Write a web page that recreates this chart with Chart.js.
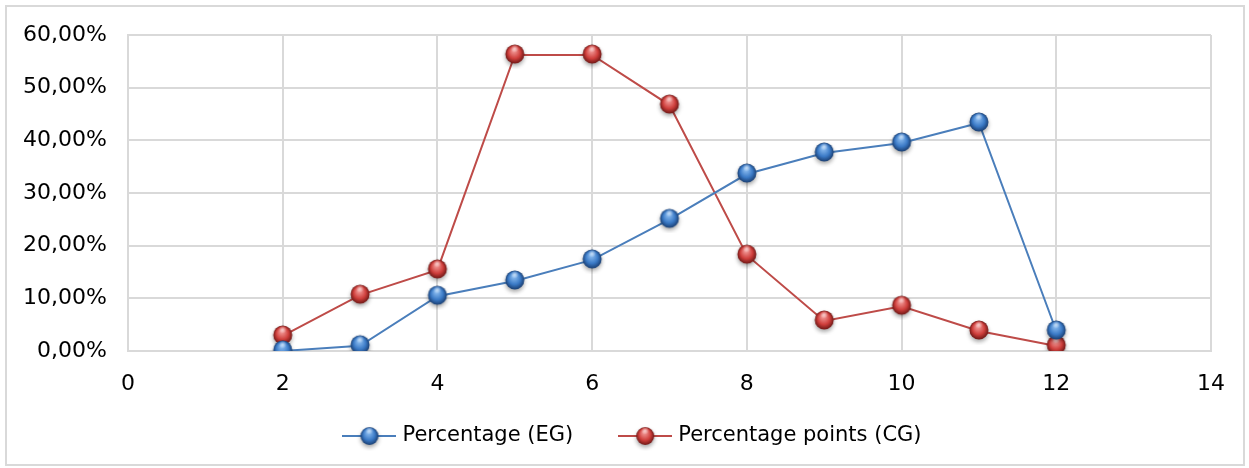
<!DOCTYPE html>
<html>
<head>
<meta charset="utf-8">
<script src="https://cdn.jsdelivr.net/npm/chart.js@4"></script>
<style>
  html, body { margin: 0; padding: 0; background: #fff; }
  #wrap { position: relative; width: 1249px; height: 468px; }
  #frame { position: absolute; left: 5px; top: 5px; width: 1236px; height: 457px;
           border: 2px solid #d9d9d9; pointer-events: none; }
</style>
</head>
<body>
<div id="wrap">
  <canvas id="myChart" width="1249" height="468"></canvas>
  <div id="frame"></div>
</div>
<script>
// x values
const xValues = [2, 3, 4, 5, 6, 7, 8, 9, 10, 11, 12];
// values in percent
const egValues = [0.0, 1.0, 10.4, 13.3, 17.3, 25.0, 33.6, 37.6, 39.5, 43.3, 3.8];
const cgValues = [2.85, 10.6, 15.4, 56.2, 56.2, 46.7, 18.2, 5.7, 8.5, 3.8, 0.95];
const seriesNames = ['Percentage (EG)', 'Percentage points (CG)'];

const FONT = 'DejaVu Sans, Verdana, sans-serif';

// shaded sphere marker, like the office chart style
function sphere(light, base, dark, withLine, lineColor) {
  const w = withLine ? 54 : 28, h = 28;
  const c = document.createElement('canvas');
  c.width = w; c.height = h;
  const g = c.getContext('2d');
  const cx = w / 2, cy = h / 2 - 1, r = withLine ? 9 : 9.5;
  if (withLine) {
    g.strokeStyle = lineColor;
    g.lineWidth = 2;
    g.beginPath(); g.moveTo(0, cy); g.lineTo(w, cy); g.stroke();
  }
  g.save();
  g.shadowColor = 'rgba(0,0,0,0.35)';
  g.shadowBlur = 4;
  g.shadowOffsetY = 2.5;
  const grad = g.createRadialGradient(cx - 1, cy - 4, 1, cx, cy, r);
  grad.addColorStop(0, light);
  grad.addColorStop(0.6, base);
  grad.addColorStop(1, dark);
  g.fillStyle = grad;
  g.beginPath(); g.arc(cx, cy, r, 0, Math.PI * 2); g.fill();
  g.restore();
  const hl = g.createRadialGradient(cx, cy - 5.5, 0, cx, cy - 5.5, 4);
  hl.addColorStop(0, 'rgba(255,255,255,0.55)');
  hl.addColorStop(1, 'rgba(255,255,255,0)');
  g.fillStyle = hl;
  g.beginPath(); g.arc(cx, cy - 5.5, 4, 0, Math.PI * 2); g.fill();
  return c;
}

const BLUE = '#4a7ebb';
const RED = '#be4b48';
const blueArgs = ['#8bbcf0', '#3b7ac6', '#1a3f73'];
const redArgs = ['#f29a98', '#cf3f3c', '#701816'];
const blueDot = sphere(...blueArgs, false);
const redDot = sphere(...redArgs, false);
const blueLeg = sphere(...blueArgs, true, BLUE);
const redLeg = sphere(...redArgs, true, RED);

function toPoints(vals) {
  return xValues.map((x, i) => ({ x: x, y: vals[i] }));
}

const data = {
  datasets: [
    { label: seriesNames[0], data: toPoints(egValues), borderColor: BLUE, backgroundColor: BLUE,
      borderWidth: 2, pointStyle: blueDot, pointRadius: 10, tension: 0, legendImg: blueLeg },
    { label: seriesNames[1], data: toPoints(cgValues), borderColor: RED, backgroundColor: RED,
      borderWidth: 2, pointStyle: redDot, pointRadius: 10, tension: 0, legendImg: redLeg }
  ]
};

// legend drawn under the plot, centred like the office chart
const bottomLegend = {
  id: 'bottomLegend',
  afterDraw(chart) {
    const ctx = chart.ctx;
    ctx.save();
    ctx.font = '21px ' + FONT;
    ctx.fillStyle = '#000';
    ctx.textBaseline = 'middle';
    const sets = chart.data.datasets;
    const gap = 45, markW = 54, textGap = 6;
    const widths = sets.map(ds => markW + textGap + ctx.measureText(ds.label).width);
    const total = widths.reduce((a, b) => a + b, 0) + gap * (sets.length - 1);
    let x = 632 - total / 2;
    const y = 436;
    sets.forEach((ds, i) => {
      ctx.drawImage(ds.legendImg, x, y - ds.legendImg.height / 2 + 1);
      ctx.fillText(ds.label, x + markW + textGap, y);
      x += widths[i] + gap;
    });
    ctx.restore();
  }
};

const conf = {
  type: 'line',
  data: data,
  plugins: [bottomLegend],
  options: {
    responsive: false,
    animation: false,
    layout: { padding: { top: 35, right: 38, bottom: 65, left: 0 } },
    scales: {
      x: {
        type: 'linear', min: 0, max: 14,
        ticks: { stepSize: 2, padding: 20, color: '#000', font: { family: FONT, size: 22 } },
        grid: { color: '#d9d9d9', lineWidth: 2, drawTicks: false },
        border: { color: '#d9d9d9', width: 2 },
        afterFit: (s) => { s.height = 52; }
      },
      y: {
        min: 0, max: 60,
        ticks: { stepSize: 10, padding: 21, color: '#000', font: { family: FONT, size: 22 },
                 callback: (v) => v.toFixed(2).replace('.', ',') + '%' },
        grid: { color: '#d9d9d9', lineWidth: 2, drawTicks: false },
        border: { color: '#d9d9d9', width: 2 },
        afterFit: (s) => { s.width = 128; }
      }
    },
    plugins: {
      tooltip: { enabled: false },
      legend: { display: false }
    }
  }
};

const myChart = new Chart(document.getElementById('myChart'), conf);
</script>
</body>
</html>
